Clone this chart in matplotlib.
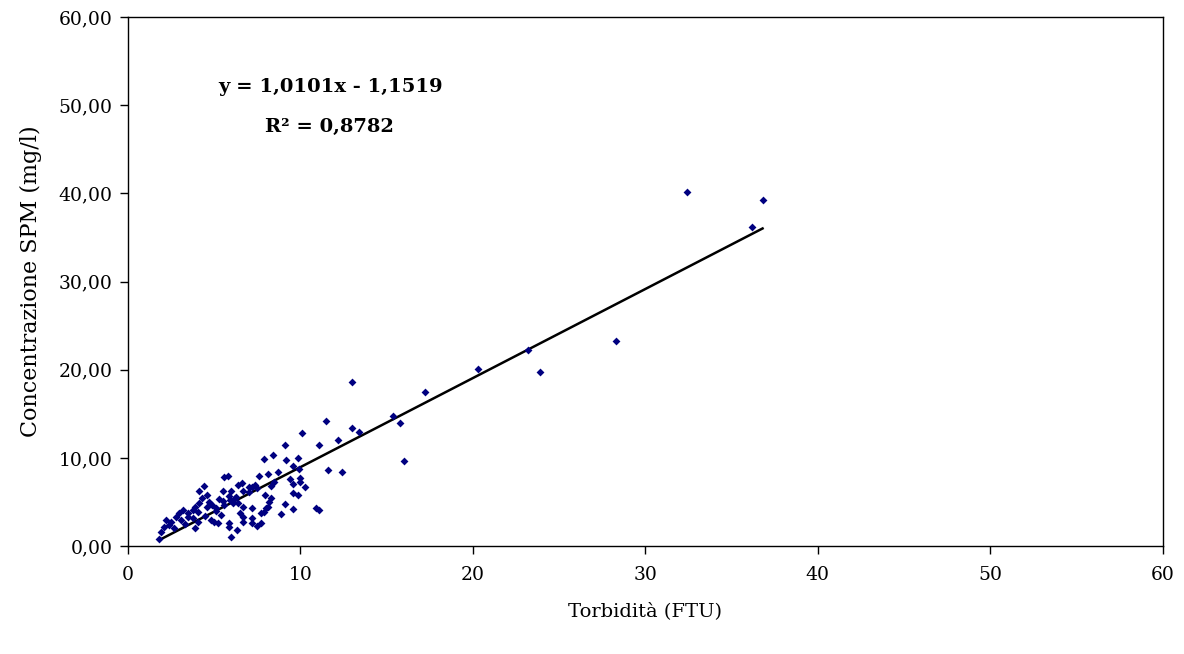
import matplotlib
matplotlib.use("Agg")
import matplotlib.pyplot as plt
from matplotlib.ticker import FuncFormatter, MultipleLocator
import numpy as np

# torbidita (FTU) vs SPM (mg/l)
turb = [32.4, 36.8, 36.2, 28.3, 23.2, 23.9, 20.3, 17.2, 15.35, 15.8,
        16.0, 13.0, 13.0, 13.4, 11.5, 10.1, 12.2, 11.1, 9.1, 7.9,
        8.4, 9.15, 9.85, 9.6, 11.6, 12.4, 7.6, 8.1, 8.7, 9.9,
        9.4, 10.0, 10.0, 9.6, 10.25, 8.45, 8.3, 7.2, 7.5, 7.95,
        8.3, 9.85, 7.2, 8.1, 7.9, 7.7, 9.1, 8.9, 9.6, 10.9,
        11.1, 7.7, 7.5, 7.2, 5.8, 5.5, 6.4, 6.6, 7.0, 7.4,
        7.0, 6.7, 6.25, 5.85, 5.5, 5.6, 6.1, 6.4, 5.1, 8.2,
        8.0, 6.7, 6.5, 6.7, 6.65, 7.2, 5.85, 5.85, 6.3, 6.0,
        4.4, 4.1, 4.6, 4.3, 4.7, 4.9, 5.1, 4.6, 4.1, 3.9,
        3.8, 4.05, 3.5, 3.8, 4.05, 3.9, 3.5, 3.2, 2.95, 2.8,
        3.1, 2.5, 2.2, 2.4, 2.1, 1.9, 1.8, 5.0, 5.2, 5.6,
        5.3, 5.9, 6.2, 6.0, 4.5, 5.4, 4.8, 3.3, 2.7, 9.6]
spm = [40.2, 39.2, 36.2, 23.3, 22.2, 19.7, 20.1, 17.5, 14.7, 14.0,
       9.6, 18.6, 13.4, 12.9, 14.2, 12.8, 12.0, 11.5, 11.5, 9.9,
       10.3, 9.8, 10.0, 9.1, 8.6, 8.4, 8.0, 8.2, 8.4, 8.75,
       7.6, 7.7, 7.3, 7.0, 6.7, 7.3, 6.8, 6.7, 6.6, 5.8,
       5.45, 5.8, 4.3, 4.4, 3.9, 3.75, 4.8, 3.6, 4.2, 4.3,
       4.1, 2.6, 2.3, 2.6, 8.0, 6.25, 6.9, 7.2, 6.7, 6.9,
       6.1, 6.25, 5.6, 5.7, 5.1, 4.7, 4.9, 4.9, 4.0, 5.0,
       4.3, 4.4, 3.75, 3.3, 2.7, 3.2, 2.6, 2.2, 1.8, 1.0,
       6.8, 6.25, 5.8, 5.4, 5.0, 4.7, 4.3, 4.4, 4.9, 4.4,
       4.1, 3.9, 3.75, 3.2, 2.7, 2.0, 3.3, 4.1, 3.75, 3.3,
       3.0, 2.7, 3.0, 2.4, 2.2, 1.6, 0.8, 2.7, 2.6, 7.8,
       5.3, 5.2, 5.4, 6.3, 3.4, 3.5, 3.0, 2.5, 2.0, 6.0]

slope = 1.0101
intercept = -1.1519

plt.rcParams['font.family'] = ['DejaVu Serif']

fig = plt.figure(figsize=(11.84, 6.54), dpi=100)
ax = fig.add_axes([0.108, 0.165, 0.874, 0.809])

ax.scatter(turb, spm, marker='D', s=16, color='#000080', linewidths=0, zorder=3)

xl = np.array([min(turb), max(turb)])
ax.plot(xl, slope * xl + intercept, color='black', lw=1.8, zorder=2)

ax.set_xlim(0, 60)
ax.set_ylim(0, 60)
ax.xaxis.set_major_locator(MultipleLocator(10))
ax.yaxis.set_major_locator(MultipleLocator(10))
ax.yaxis.set_major_formatter(FuncFormatter(lambda v, p: f"{v:.2f}".replace('.', ',')))
ax.tick_params(direction='out', length=6, width=1, labelsize=13.5, colors='black')
ax.tick_params(axis='x', pad=8)
ax.tick_params(axis='y', pad=5)
for s in ax.spines.values():
    s.set_linewidth(1)

ax.set_xlabel('Torbidità (FTU)', fontsize=14, labelpad=13)
ax.set_ylabel('Concentrazione SPM (mg/l)', fontsize=16, labelpad=12)

ax.text(0.196, 0.868, 'y = 1,0101x - 1,1519', transform=ax.transAxes,
        ha='center', va='center', fontsize=14, fontweight='bold')
ax.text(0.195, 0.792, 'R² = 0,8782', transform=ax.transAxes,
        ha='center', va='center', fontsize=14, fontweight='bold')

fig.savefig('out.png', dpi=100)
